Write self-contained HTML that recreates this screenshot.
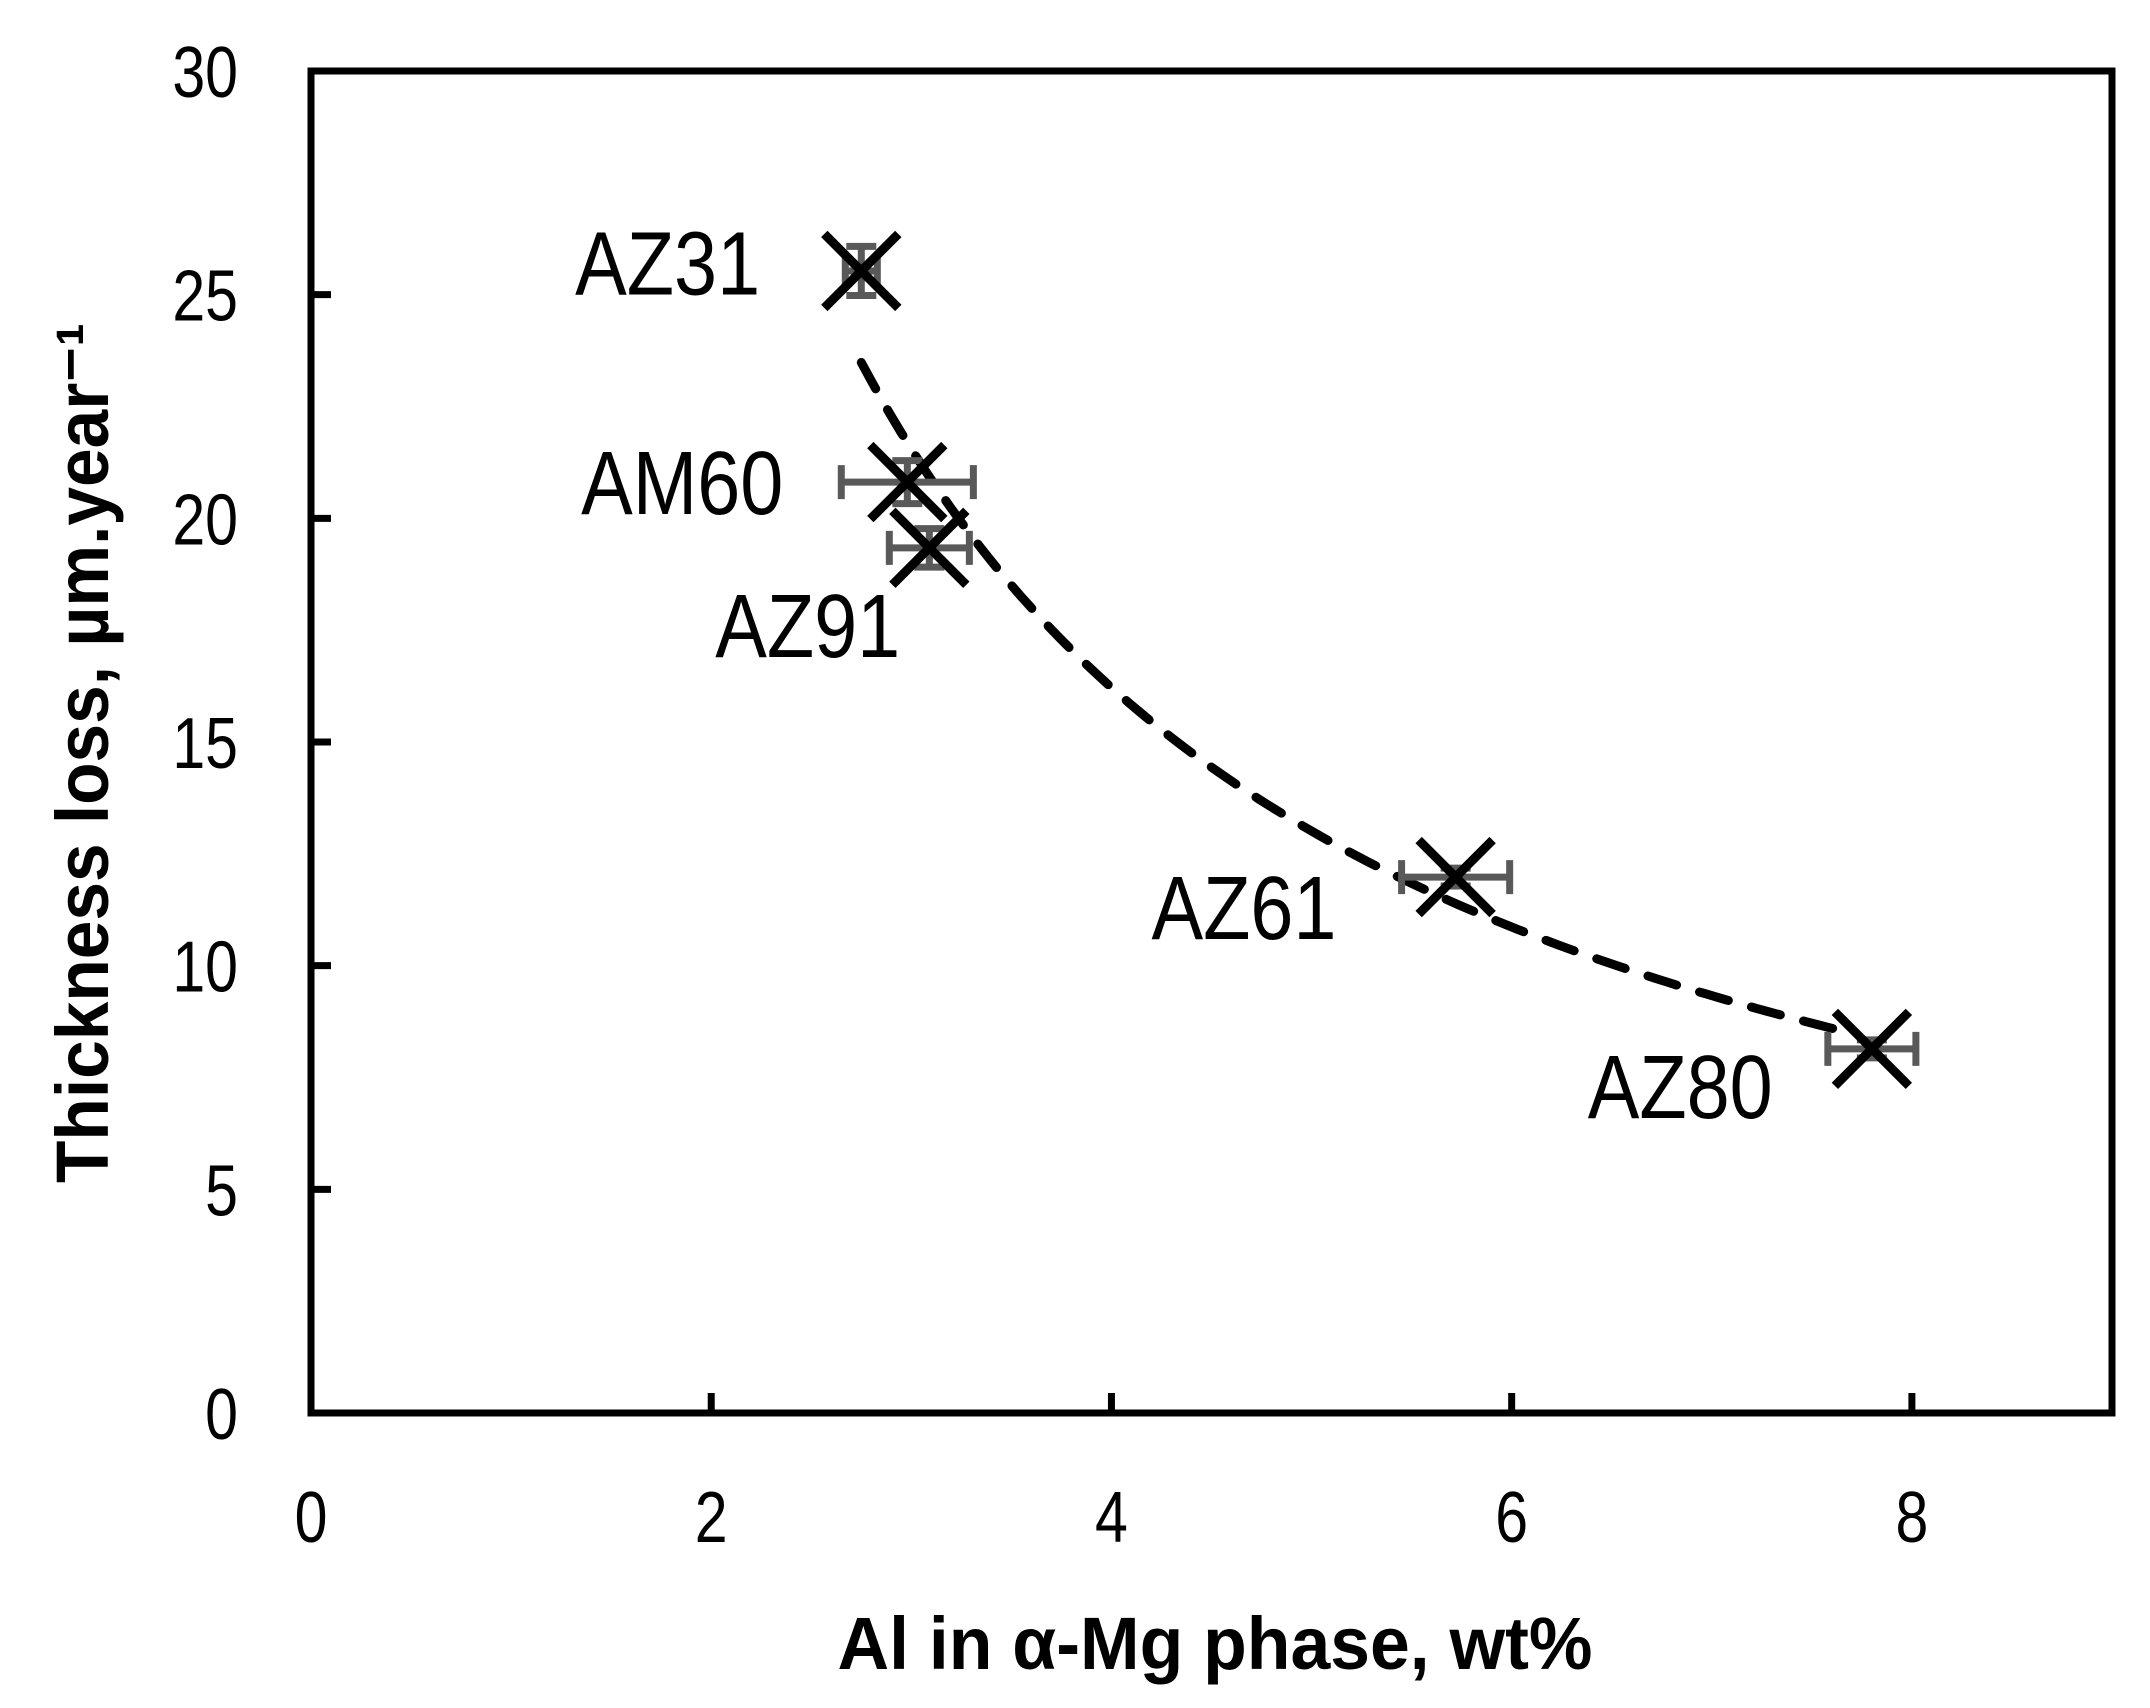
<!DOCTYPE html>
<html><head><meta charset="utf-8"><style>html,body{margin:0;padding:0;background:#fff}svg{display:block}</style></head>
<body>
<svg id="chart" width="2150" height="1708" xmlns="http://www.w3.org/2000/svg" font-family="Liberation Sans, sans-serif">
<g id="grid"></g>
<g id="marks"></g>
<text x="1215" y="1669" font-size="74" font-weight="bold" text-anchor="middle" textLength="755" lengthAdjust="spacingAndGlyphs">Al in α-Mg phase, wt%</text>
<text transform="translate(108,753) rotate(-90)" font-size="74" font-weight="bold" text-anchor="middle" textLength="860" lengthAdjust="spacingAndGlyphs">Thickness loss, µm.year⁻¹</text>
</svg>
<script>
const alloys = ['AZ31','AM60','AZ91','AZ61','AZ80'];
const alValues = [2.75, 2.98, 3.09, 5.72, 7.80];
const lossValues = [25.53, 20.81, 19.34, 11.98, 8.14];
const alErr = [0.08, 0.33, 0.20, 0.27, 0.22];
const lossErr = [0.55, 0.48, 0.43, 0.2, 0.2];
const labelX = [1.32, 1.35, 2.02, 4.20, 6.38];
const labelY = [25.0, 20.1, 16.9, 10.6, 6.6];
const fitA = [63.8];
const fitB = [-0.988];
const fitRange = [2.75, 7.72];
const xTicks = [0,2,4,6,8];
const yTicks = [0,5,10,15,20,25,30];

const L=311,R=2112,T=71,B=1413,XMAX=9,YMAX=30;
const sx=v=>L+(R-L)*v/XMAX, sy=v=>B-(B-T)*v/YMAX;
const NS='http://www.w3.org/2000/svg';
function mk(tag,attrs,parent){const e=document.createElementNS(NS,tag);for(const k in attrs)e.setAttribute(k,attrs[k]);parent.appendChild(e);return e;}
const g=document.getElementById('grid'), m=document.getElementById('marks');

const frame=mk('rect',{x:L,y:T,width:R-L,height:B-T,fill:'none',stroke:'#000','stroke-width':7},g);


xTicks.forEach(v=>{
  const t=mk('line',{x1:sx(v),x2:sx(v),y1:B,y2:B-20,stroke:'#000','stroke-width':7},g);
  
  
  const l=mk('text',{transform:`translate(${sx(v)},1542) scale(0.82,1)`,'font-size':72,'text-anchor':'middle'},g);l.textContent=v;
  
  
});
yTicks.forEach(v=>{
  const t=mk('line',{x1:L,x2:L+20,y1:sy(v),y2:sy(v),stroke:'#000','stroke-width':7},g);
  
  
  const l=mk('text',{transform:`translate(238,${sy(v)+26}) scale(0.82,1)`,'font-size':72,'text-anchor':'end'},g);l.textContent=v;
  
  
});

let d='';
for(let i=0;i<=100;i++){const x=fitRange[0]+(fitRange[1]-fitRange[0])*i/100;const y=fitA[0]*Math.pow(x,fitB[0]);d+=(i?'L':'M')+sx(x).toFixed(1)+','+sy(y).toFixed(1);}
const fit=mk('path',{d:d,fill:'none',stroke:'#000','stroke-width':9,'stroke-dasharray':'30 24','stroke-linecap':'round'},m);



alloys.forEach((a,i)=>{
  const cx=sx(alValues[i]), cy=sy(lossValues[i]);
  const eg=mk('g',{stroke:'#595959','stroke-width':7},m);
  
  
  const x1=sx(alValues[i]-alErr[i]), x2=sx(alValues[i]+alErr[i]);
  mk('line',{x1:x1,x2:x2,y1:cy,y2:cy},eg);
  mk('line',{x1:x1,x2:x1,y1:cy-17,y2:cy+17},eg);
  mk('line',{x1:x2,x2:x2,y1:cy-17,y2:cy+17},eg);
  const y1=sy(lossValues[i]-lossErr[i]), y2=sy(lossValues[i]+lossErr[i]);
  mk('line',{x1:cx,x2:cx,y1:y1,y2:y2},eg);
  mk('line',{x1:cx-15,x2:cx+15,y1:y1,y2:y1},eg);
  mk('line',{x1:cx-15,x2:cx+15,y1:y2,y2:y2},eg);
  const p=mk('path',{d:`M${cx-37},${cy-37}L${cx+37},${cy+37}M${cx-37},${cy+37}L${cx+37},${cy-37}`,stroke:'#000','stroke-width':9},m);
  
  
  const t=mk('text',{transform:`translate(${sx(labelX[i])},${sy(labelY[i])}) scale(0.86,1)`,'font-size':90},m);t.textContent=a;
  
  
});
</script>
</body></html>
